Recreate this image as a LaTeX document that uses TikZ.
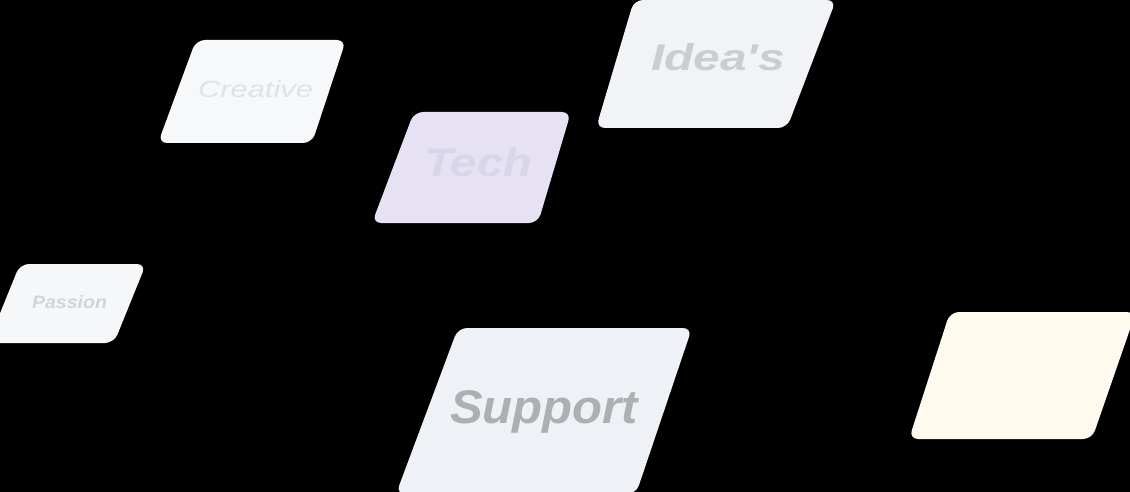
\documentclass[tikz,border=0pt]{standalone}
\usepackage{fontspec}
\setmainfont{Liberation Sans}
\newfontfamily\plainfont{Liberation Sans}
\usepackage{graphicx}
\definecolor{creativeFill}{HTML}{F6F8F9}
\definecolor{creativeText}{HTML}{E0E2E4}
\definecolor{techFill}{HTML}{E6E2F3}
\definecolor{techText}{HTML}{DAD6EA}
\definecolor{ideaFill}{HTML}{F1F3F6}
\definecolor{ideaText}{HTML}{CBCDD1}
\definecolor{passionFill}{HTML}{F5F7F9}
\definecolor{passionText}{HTML}{D2D4D7}
\definecolor{supportFill}{HTML}{EEF2F7}
\definecolor{supportText}{HTML}{ADAFB3}
\definecolor{yellowFill}{HTML}{FEFBEE}
\begin{document}
\begin{tikzpicture}[x=1pt,y=-1pt,
  card/.style={rounded corners=9pt},
  lbl/.style={inner sep=0pt, outer sep=0pt, anchor=base west}]
\useasboundingbox (0,0) rectangle (1130,492);
\clip (0,0) rectangle (1130,492);
\fill[black] (0,0) rectangle (1130,492);
% cards
\fill[card,fill=creativeFill] (196,40) -- (346,40) -- (312,143) -- (158,143) -- cycle;
\fill[card,fill=techFill] (414,112) -- (571,112) -- (538,223) -- (372,223) -- cycle;
\fill[card,fill=ideaFill] (634,0) -- (836,0) -- (787,128) -- (596,128) -- cycle;
\fill[card,fill=passionFill] (20,264) -- (146,264) -- (114,343) -- (-12,343) -- cycle;
\fill[card,fill=supportFill] (458,328) -- (692,328) -- (636,494) -- (396,494) -- cycle;
\fill[card,fill=yellowFill] (950,312) -- (1136,312) -- (1092,439) -- (909,439) -- cycle;
% labels
\node[lbl,text=creativeText] (creative) at (198,98) {\resizebox{115pt}{17pt}{\itshape Creative}};
\node[lbl,text=techText] (tech) at (424,176) {\resizebox{108pt}{29pt}{\bfseries\itshape Tech}};
\node[lbl,text=ideaText] (ideas) at (651,71) {\resizebox{134pt}{27pt}{\plainfont\bfseries\itshape Idea's}};
\node[lbl,text=passionText] (passion) at (32,308) {\resizebox{75pt}{13pt}{\bfseries\itshape Passion}};
\node[lbl,text=supportText] (support) at (450,423) {\resizebox{188pt}{33pt}{\bfseries\itshape Support}};
\end{tikzpicture}
\end{document}
